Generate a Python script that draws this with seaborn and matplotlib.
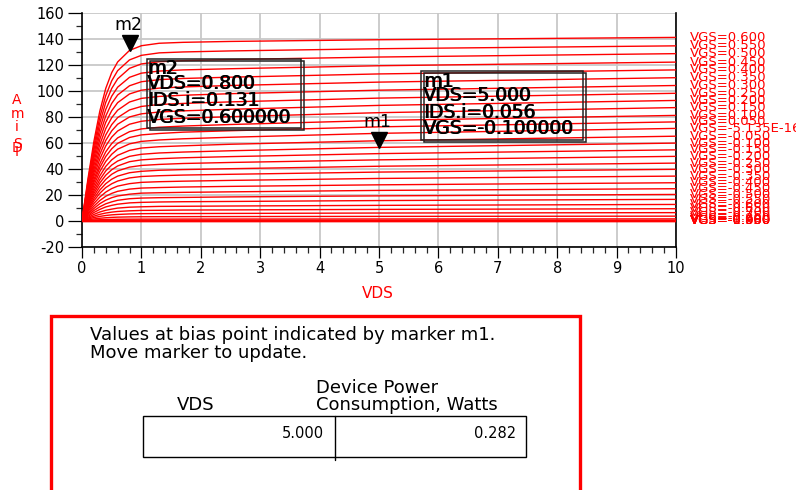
import matplotlib
matplotlib.use("Agg")
import matplotlib.pyplot as plt
import matplotlib.transforms as mtransforms
from matplotlib.patches import Rectangle
from matplotlib.ticker import MultipleLocator
import pandas as pd
import seaborn as sns

# Drain sweep points (V)
vds = [0, 0.1, 0.2, 0.3, 0.4, 0.5, 0.6, 0.8, 1.0, 1.3, 1.7, 2.5, 5.0, 10.0]

# Gate bias of each curve (V)
vgs = [0.60, 0.55, 0.50, 0.45, 0.40, 0.35, 0.30, 0.25, 0.20, 0.15, 0.10, 0.05,
       -5.135e-16, -0.05, -0.10, -0.15, -0.20, -0.25, -0.30, -0.35, -0.40, -0.45,
       -0.50, -0.55, -0.60, -0.65, -0.70, -0.75, -0.80, -0.85, -0.90, -0.95, -1.00]

# Drain current (mA), one row per gate bias, one column per drain point
ids_ma = [
    [0, 32.1, 60.9, 84.3, 101.8, 113.9, 122.1, 131.0, 134.6, 136.5, 137.2, 137.9, 139.2, 141.0],
    [0, 30.3, 57.5, 79.7, 96.2, 107.6, 115.4, 123.7, 127.2, 129.1, 129.8, 130.6, 132.3, 134.5],
    [0, 28.6, 54.3, 75.3, 91.0, 101.7, 109.1, 117.2, 120.6, 122.3, 123.1, 124.0, 125.9, 128.5],
    [0, 26.9, 51.1, 70.9, 85.6, 95.8, 102.7, 110.3, 113.5, 115.1, 116.0, 116.9, 119.2, 122.0],
    [0, 25.3, 48.2, 66.7, 80.5, 90.2, 96.7, 103.8, 106.9, 108.5, 109.4, 110.4, 112.9, 116.0],
    [0, 23.8, 45.2, 62.6, 75.7, 84.6, 90.8, 97.5, 100.4, 102.0, 102.9, 104.0, 106.6, 110.0],
    [0, 22.3, 42.3, 58.6, 70.8, 79.2, 85.0, 91.3, 94.1, 95.6, 96.5, 97.7, 100.4, 104.0],
    [0, 20.8, 39.4, 54.7, 66.0, 73.9, 79.3, 85.2, 87.9, 89.4, 90.2, 91.4, 94.3, 98.0],
    [0, 19.4, 36.8, 51.1, 61.7, 69.1, 74.2, 79.8, 82.2, 83.6, 84.5, 85.7, 88.7, 92.5],
    [0, 18.1, 34.2, 47.5, 57.5, 64.3, 69.0, 74.2, 76.5, 77.9, 78.8, 80.0, 83.1, 87.0],
    [0, 16.7, 31.6, 43.8, 53.0, 59.3, 63.7, 68.5, 70.6, 71.9, 72.8, 74.0, 77.1, 81.0],
    [0, 15.6, 29.5, 40.9, 49.4, 55.3, 59.5, 64.0, 66.0, 67.1, 68.1, 69.2, 72.2, 76.0],
    [0, 14.4, 27.2, 37.8, 45.6, 51.1, 55.0, 59.1, 61.0, 62.1, 63.0, 64.2, 67.2, 71.0],
    [0, 13.1, 24.9, 34.5, 41.8, 46.8, 50.3, 54.1, 55.9, 56.9, 57.6, 58.8, 61.5, 65.0],
    [0, 12.0, 22.8, 31.6, 38.3, 42.8, 45.9, 49.5, 51.1, 52.1, 52.8, 53.8, 56.4, 59.7],
    [0, 11.0, 20.9, 29.0, 35.0, 39.2, 42.1, 45.4, 46.8, 47.7, 48.4, 49.3, 51.6, 54.5],
    [0, 10.0, 19.0, 26.3, 31.8, 35.7, 38.3, 41.2, 42.5, 43.3, 44.0, 44.8, 46.8, 49.5],
    [0, 8.9, 17.0, 23.6, 28.5, 31.9, 34.3, 36.9, 38.0, 38.8, 39.3, 40.0, 41.9, 44.3],
    [0, 8.0, 15.2, 21.1, 25.5, 28.4, 30.5, 32.9, 34.0, 34.6, 35.1, 35.7, 37.4, 39.5],
    [0, 7.0, 13.2, 18.2, 22.0, 24.7, 26.6, 28.5, 29.5, 30.0, 30.4, 31.0, 32.5, 34.3],
    [0, 5.9, 11.2, 15.5, 18.8, 21.0, 22.6, 24.3, 25.1, 25.5, 25.9, 26.4, 27.6, 29.2],
    [0, 5.0, 9.4, 13.1, 15.8, 17.7, 19.0, 20.4, 21.2, 21.5, 21.8, 22.2, 23.3, 24.6],
    [0, 4.1, 7.8, 10.7, 13.0, 14.5, 15.7, 16.9, 17.4, 17.7, 17.9, 18.3, 19.1, 20.2],
    [0, 3.3, 6.3, 8.7, 10.6, 11.8, 12.7, 13.7, 14.1, 14.4, 14.6, 14.8, 15.5, 16.4],
    [0, 2.5, 4.8, 6.7, 8.0, 8.9, 9.7, 10.4, 10.7, 11.0, 11.1, 11.3, 11.8, 12.5],
    [0, 1.9, 3.5, 4.9, 5.9, 6.6, 7.1, 7.6, 7.9, 8.0, 8.2, 8.3, 8.7, 9.2],
    [0, 1.3, 2.4, 3.3, 4.0, 4.5, 4.8, 5.2, 5.4, 5.5, 5.5, 5.6, 5.9, 6.2],
    [0, 0.7, 1.35, 1.88, 2.27, 2.54, 2.73, 2.93, 3.03, 3.08, 3.12, 3.18, 3.32, 3.5],
    [0, 0.28, 0.54, 0.75, 0.91, 1.0, 1.09, 1.17, 1.21, 1.23, 1.25, 1.27, 1.33, 1.4],
    [0, 0.08, 0.15, 0.21, 0.26, 0.29, 0.31, 0.34, 0.35, 0.36, 0.36, 0.37, 0.38, 0.4],
    [0, 0.01, 0.02, 0.03, 0.035, 0.04, 0.04, 0.045, 0.045, 0.045, 0.045, 0.046, 0.048, 0.05],
    [0, 0, 0, 0, 0, 0, 0, 0, 0, 0, 0, 0, 0, 0],
    [0, 0, 0, 0, 0, 0, 0, 0, 0, 0, 0, 0, 0, 0],
]

x_ticks = [0, 1, 2, 3, 4, 5, 6, 7, 8, 9, 10]
y_ticks = [-20, 0, 20, 40, 60, 80, 100, 120, 140, 160]

# Marker placements: (gate bias, drain voltage)
m2_vgs, m2_vds = 0.60, 0.8
m1_vgs, m1_vds = -0.10, 5.0

RED = "#ff0000"


def vgs_text(v):
    return "VGS=" + ("%.3E" % v if abs(v) < 1e-9 else "%.3f" % v)


def ids_at(v_gs, v_ds):
    row = min(range(len(vgs)), key=lambda i: abs(vgs[i] - v_gs))
    return ids_ma[row][vds.index(v_ds)]


rows = []
for v, curve in zip(vgs, ids_ma):
    for x, y in zip(vds, curve):
        rows.append((vgs_text(v), x, y))
df = pd.DataFrame(rows, columns=["VGS", "VDS", "IDS"])

sns.set_style("white")
plt.rcParams["font.family"] = ["DejaVu Sans"]
plt.rcParams["axes.unicode_minus"] = False

W, H = 796, 490
fig = plt.figure(figsize=(W / 100, H / 100), dpi=100)
left_px, right_px, top_px, bot_px = 82, 676, 12.7, 246.7
ax = fig.add_axes([left_px / W, 1 - bot_px / H, (right_px - left_px) / W, (bot_px - top_px) / H])

sns.lineplot(data=df, x="VDS", y="IDS", units="VGS", estimator=None, sort=False,
             color=RED, linewidth=1.0, ax=ax, legend=False, zorder=3)

ax.set_xlim(0, 10)
ax.set_ylim(-20, 160)
ax.set_xticks(x_ticks)
ax.set_yticks(y_ticks)
ax.xaxis.set_minor_locator(MultipleLocator(0.2))
ax.yaxis.set_minor_locator(MultipleLocator(10))
ax.grid(True, which="major", color="#c8c8c8", linewidth=1.3, zorder=0)
ax.set_axisbelow(True)
ax.tick_params(axis="y", which="major", length=10, width=0.9, direction="out",
               labelsize=10.5, pad=3, colors="black")
ax.tick_params(axis="y", which="minor", length=4.3, width=0.9, direction="out")
ax.tick_params(axis="x", which="major", length=8, width=0.9, direction="out",
               labelsize=10.5, pad=2, colors="black")
ax.tick_params(axis="x", which="minor", length=4.3, width=0.9, direction="out")
ax.tick_params(axis="y", which="both", left=True)
ax.tick_params(axis="x", which="both", bottom=True)
for side in ("left", "bottom", "right"):
    ax.spines[side].set_visible(True)
    ax.spines[side].set_color("black")
    ax.spines[side].set_linewidth(1.2)
ax.spines["top"].set_visible(False)
ax.set_xlabel("")
ax.set_ylabel("")

# Curve labels at the right end of each trace
for v, curve in zip(vgs, ids_ma):
    ax.text(10.24, curve[-1], vgs_text(v), color=RED, fontsize=9.5,
            ha="left", va="center", clip_on=False)

# Axis titles
fig.text(378 / W, 1 - 294 / H, "VDS", color=RED, fontsize=11, ha="center", va="center")
for ch, ypx in [("A", 100), ("m", 114), ("i", 127), ("S", 144), ("D", 148), ("I", 152)]:
    fig.text(17 / W, 1 - ypx / H, ch, color=RED, fontsize=10, ha="center", va="center")

# Markers
bold_shift = mtransforms.ScaledTranslation(0.8 / 100, 0, fig.dpi_scale_trans)


def heavy_text(x, y, s, **kw):
    ax.text(x, y, s, **kw)
    ax.text(x, y, s, transform=ax.transData + bold_shift, **kw)


for name, gv, dv in [("m2", m2_vgs, m2_vds), ("m1", m1_vgs, m1_vds)]:
    iv = ids_at(gv, dv)
    lift = mtransforms.ScaledTranslation(0, 5.5 / 72, fig.dpi_scale_trans)
    ax.plot([dv], [iv], marker="v", markersize=11, color="black", linestyle="none",
            transform=ax.transData + lift, zorder=6, clip_on=False)
    ax.annotate(name, (dv, iv), xytext=(-1, 18), textcoords="offset points",
                ha="center", va="center", fontsize=12.5, color="black", zorder=6)

# Marker readout boxes
shadow = mtransforms.ScaledTranslation(3 / 100, -2 / 100, fig.dpi_scale_trans)


def readout(x0, x1, y0, y1, tx, line_y, name, gv, dv):
    iv = ids_at(gv, dv)
    for tr in (ax.transData, ax.transData + shadow):
        ax.add_patch(Rectangle((x0, y0), x1 - x0, y1 - y0, fill=False, edgecolor="#222222",
                               linewidth=1.1, transform=tr, zorder=5, clip_on=False))
    lines = [name, "VDS=%.3f" % dv, "IDS.i=%.3f" % (iv / 1000), "VGS=%.6f" % gv]
    for s, ly in zip(lines, line_y):
        heavy_text(tx, ly, s, fontsize=13.5, color="black", ha="left", va="center", zorder=6)


readout(1.09, 3.68, 71.0, 124.1, 1.10, [117.2, 105.4, 92.5, 79.7], "m2", m2_vgs, m2_vds)
readout(5.71, 8.43, 61.8, 115.1, 5.74, [106.8, 96.4, 83.5, 70.8], "m1", m1_vgs, m1_vds)


# Bias point summary panel
def fx(px):
    return px / W


def fy(py):
    return 1 - py / H


fig.add_artist(Rectangle((fx(51), fy(500)), fx(580) - fx(51), fy(316) - fy(500),
                         transform=fig.transFigure, fill=False, edgecolor=RED, linewidth=2.4))
fig.text(fx(90), fy(335), "Values at bias point indicated by marker m1.",
         fontsize=13, ha="left", va="center", color="black")
fig.text(fx(90), fy(353), "Move marker to update.",
         fontsize=13, ha="left", va="center", color="black")
fig.text(fx(316), fy(388), "Device Power", fontsize=13, ha="left", va="center", color="black")
fig.text(fx(316), fy(404.5), "Consumption, Watts", fontsize=13, ha="left", va="center", color="black")
fig.text(fx(196), fy(404.5), "VDS", fontsize=13, ha="center", va="center", color="black")

fig.add_artist(Rectangle((fx(143), fy(457)), fx(526) - fx(143), fy(416) - fy(457),
                         transform=fig.transFigure, fill=False, edgecolor="black", linewidth=1.0))
fig.add_artist(plt.Line2D([fx(335), fx(335)], [fy(416), fy(460)],
                          transform=fig.transFigure, color="black", linewidth=1.0))
m1_ids = ids_at(m1_vgs, m1_vds)
fig.text(fx(324), fy(433), "%.3f" % m1_vds, fontsize=10.5, ha="right", va="center", color="black")
fig.text(fx(516), fy(433), "%.3f" % (m1_vds * m1_ids / 1000), fontsize=10.5,
         ha="right", va="center", color="black")

fig.savefig("out.png", dpi=100)
